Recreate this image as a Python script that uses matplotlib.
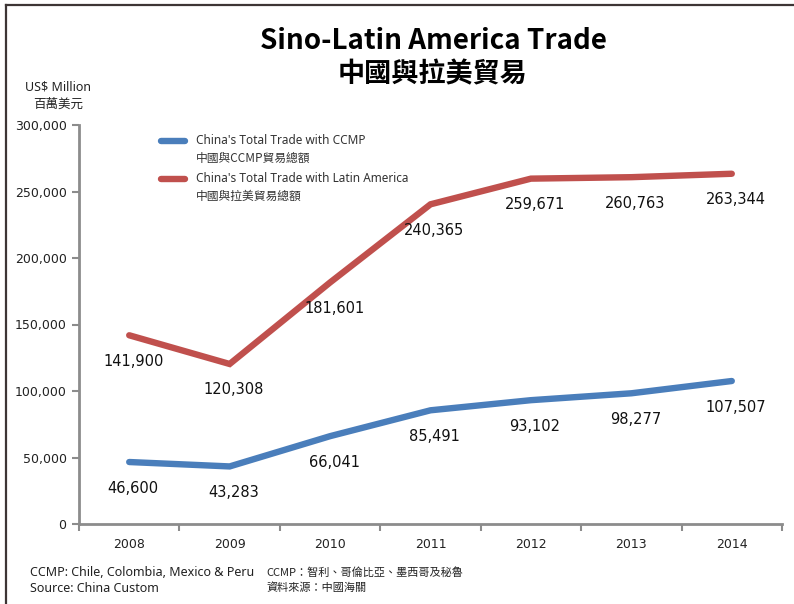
import matplotlib
matplotlib.use("Agg")
import matplotlib.pyplot as plt
from matplotlib.lines import Line2D

years = ["2008", "2009", "2010", "2011", "2012", "2013", "2014"]
ccmp = [46600, 43283, 66041, 85491, 93102, 98277, 107507]
latam = [141900, 120308, 181601, 240365, 259671, 260763, 263344]
yticks = [0, 50000, 100000, 150000, 200000, 250000, 300000]
legend_en = ["China's Total Trade with CCMP", "China's Total Trade with Latin America"]
legend_zh = ["中國與CCMP貿易總額", "中國與拉美貿易總額"]

FONT = ["Noto Sans", "Noto Sans CJK TC", "DejaVu Sans"]
CJK = ["Noto Sans CJK TC", "DejaVu Sans"]
plt.rcParams['font.family'] = FONT

W, H = 794, 604
fig = plt.figure(figsize=(W / 100, H / 100), dpi=100)
ax = fig.add_axes([79 / W, 1 - 524 / H, (782 - 79) / W, (524 - 125) / H])

x = list(range(len(years)))
blue = "#4a7ebb"
red = "#c0504d"
colors = [blue, red]
for series, c in zip([ccmp, latam], colors):
    ax.plot(x, series, color=c, lw=4.6, solid_capstyle="round", solid_joinstyle="miter")
    for xi, v in zip(x, series):
        ax.annotate(f"{v:,}", (xi, v), xytext=(4, -26), textcoords="offset pixels",
                    ha="center", va="center", fontsize=10.5, family=["DejaVu Sans"], color="#111111")

ax.set_xlim(-0.5, 6.5)
ax.set_ylim(0, 300000)
ax.set_yticks(yticks)
ax.set_yticklabels([f"{t:,}" for t in yticks], family=["DejaVu Sans"], fontsize=9, color="#222222")
ax.set_xticks([i + 0.5 for i in range(-1, 7)], minor=False)
ax.set_xticklabels([])
ax.set_xticks(x, minor=True)
ax.set_xticklabels(years, minor=True, family=["DejaVu Sans"], fontsize=9, color="#222222")
ax.tick_params(axis="x", which="minor", length=0, pad=10)
ax.tick_params(axis="x", which="major", length=5, width=1.5, color="#8c8c8c", direction="out")
ax.tick_params(axis="y", length=5, width=1.5, color="#8c8c8c", direction="out", pad=4)
for s in ["top", "right"]:
    ax.spines[s].set_visible(False)
for s in ["left", "bottom"]:
    ax.spines[s].set_color("#8c8c8c")
    ax.spines[s].set_linewidth(2)

# manual legend
for i, (en, zh, c) in enumerate(zip(legend_en, legend_zh, colors)):
    yc = 141 + 38 * i
    fig.add_artist(Line2D([161 / W, 185 / W], [1 - yc / H, 1 - yc / H], color=c, lw=4.6,
                          solid_capstyle="round", transform=fig.transFigure))
    fig.text(196 / W, 1 - yc / H, en, ha="left", va="center", fontsize=8.5, family=FONT, color="#333333")
    fig.text(196 / W, 1 - (yc + 17) / H, zh, ha="left", va="center", fontsize=8.5, family=CJK, color="#333333")

fig.text(433 / W, 1 - 41 / H, "Sino-Latin America Trade", ha="center", va="center",
         fontsize=20, fontweight="bold", family=CJK)
fig.text(433 / W, 1 - 74 / H, "中國與拉美貿易", ha="center", va="center",
         fontsize=19.5, fontweight="bold", family=CJK)
fig.text(58 / W, 1 - 87 / H, "US$ Million", ha="center", va="center", fontsize=9, family=FONT, color="#222222")
fig.text(58 / W, 1 - 104 / H, "百萬美元", ha="center", va="center", fontsize=9, family=CJK, color="#222222")

fig.text(30 / W, 1 - 572 / H, "CCMP: Chile, Colombia, Mexico & Peru", ha="left", va="center",
         fontsize=9, family=FONT, color="#222222")
fig.text(30 / W, 1 - 588 / H, "Source: China Custom", ha="left", va="center",
         fontsize=9, family=FONT, color="#222222")
fig.text(266 / W, 1 - 572 / H, "CCMP：智利、哥倫比亞、墨西哥及秘魯", ha="left", va="center",
         fontsize=8, family=CJK, color="#222222")
fig.text(266 / W, 1 - 588 / H, "資料來源：中國海關", ha="left", va="center",
         fontsize=8, family=CJK, color="#222222")

frame = "#3d3535"
fig.add_artist(Line2D([6 / W, 6 / W], [0, 1 - 5 / H], color=frame, lw=1.6, transform=fig.transFigure))
fig.add_artist(Line2D([6 / W, 1], [1 - 5 / H, 1 - 5 / H], color=frame, lw=1.6, transform=fig.transFigure))

fig.savefig("out.png", dpi=100, facecolor="white")
